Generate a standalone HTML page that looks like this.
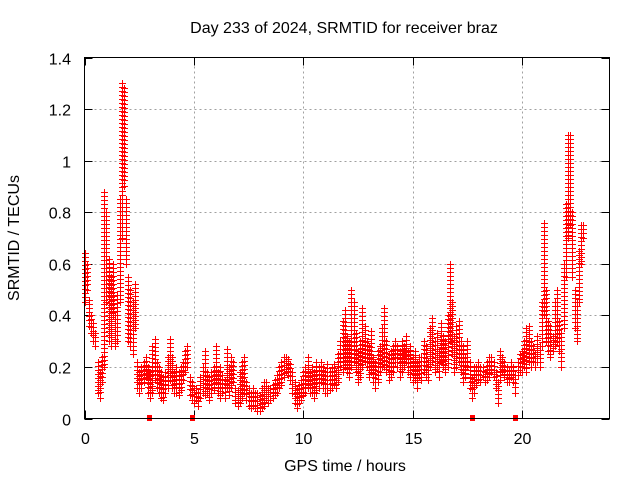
<!DOCTYPE html>
<html><head><meta charset="utf-8">
<style>
html,body{margin:0;padding:0;background:#fff;}
svg{display:block;font-family:"Liberation Sans",sans-serif;}
</style></head>
<body>
<svg id="chart" width="640" height="480" viewBox="0 0 640 480" xmlns="http://www.w3.org/2000/svg">
<rect width="640" height="480" fill="#fff"/>
<text x="344" y="33" font-size="16" text-anchor="middle">Day 233 of 2024, SRMTID for receiver braz</text>
<g id="grid"></g>
<g id="ticks"></g>
<g id="points" fill="#ff0000"></g>
<rect x="84.5" y="57.5" width="525" height="361" fill="none" stroke="#000" stroke-width="1"/>
<text x="345" y="471" font-size="16" text-anchor="middle">GPS time / hours</text>
<text transform="translate(19,238) rotate(-90)" font-size="16" text-anchor="middle">SRMTID / TECUs</text>
</svg>
<script>
const xTicks=[0,5,10,15,20];
const yTicks=[0,0.2,0.4,0.6,0.8,1,1.2,1.4];
const yTickLabels=["0","0.2","0.4","0.6","0.8","1","1.2","1.4"];
const gapMarks=[2.93,4.9,17.7,19.7];
const hours=[0,0.1,0.2,0.3,0.4,0.5,0.6,0.7,0.8,0.9,
1,1.1,1.2,1.3,1.4,1.5,1.6,1.7,1.8,1.9,
2,2.1,2.2,2.3,2.4,2.5,2.6,2.7,2.8,2.9,
3,3.1,3.2,3.3,3.4,3.5,3.6,3.7,3.8,3.9,
4,4.1,4.2,4.3,4.4,4.5,4.6,4.7,4.8,4.9,
5,5.1,5.2,5.3,5.4,5.5,5.6,5.7,5.8,5.9,
6,6.1,6.2,6.3,6.4,6.5,6.6,6.7,6.8,6.9,
7,7.1,7.2,7.3,7.4,7.5,7.6,7.7,7.8,7.9,
8,8.1,8.2,8.3,8.4,8.5,8.6,8.7,8.8,8.9,
9,9.1,9.2,9.3,9.4,9.5,9.6,9.7,9.8,9.9,
10,10.1,10.2,10.3,10.4,10.5,10.6,10.7,10.8,10.9,
11,11.1,11.2,11.3,11.4,11.5,11.6,11.7,11.8,11.9,
12,12.1,12.2,12.3,12.4,12.5,12.6,12.7,12.8,12.9,
13,13.1,13.2,13.3,13.4,13.5,13.6,13.7,13.8,13.9,
14,14.1,14.2,14.3,14.4,14.5,14.6,14.7,14.8,14.9,
15,15.1,15.2,15.3,15.4,15.5,15.6,15.7,15.8,15.9,
16,16.1,16.2,16.3,16.4,16.5,16.6,16.7,16.8,16.9,
17,17.1,17.2,17.3,17.4,17.5,17.6,17.7,17.8,17.9,
18,18.1,18.2,18.3,18.4,18.5,18.6,18.7,18.8,18.9,
19,19.1,19.2,19.3,19.4,19.5,19.6,19.7,19.8,19.9,
20,20.1,20.2,20.3,20.4,20.5,20.6,20.7,20.8,20.9,
21,21.1,21.2,21.3,21.4,21.5,21.6,21.7,21.8,21.9,
22,22.1,22.2,22.3,22.4,22.5,22.6,22.7,22.8];
const highValues=[0.64,0.6,0.46,0.4,0.37,0.33,0.22,0.18,0.24,0.88,
0.8,0.62,0.55,0.6,0.4,0.48,0.85,1.3,1.28,0.85,
0.55,0.5,0.45,0.52,0.22,0.18,0.2,0.22,0.24,0.2,
0.18,0.28,0.31,0.22,0.2,0.18,0.16,0.18,0.24,0.31,
0.24,0.18,0.2,0.18,0.2,0.22,0.26,0.28,0.16,0.14,
0.12,0.12,0.1,0.16,0.2,0.26,0.18,0.16,0.18,0.2,
0.28,0.18,0.2,0.17,0.15,0.27,0.2,0.24,0.22,0.12,
0.11,0.18,0.22,0.24,0.14,0.12,0.1,0.12,0.1,0.1,
0.09,0.12,0.14,0.14,0.12,0.12,0.13,0.15,0.17,0.2,
0.22,0.24,0.24,0.23,0.21,0.18,0.14,0.12,0.13,0.15,
0.18,0.2,0.24,0.18,0.2,0.18,0.22,0.2,0.22,0.2,
0.18,0.21,0.18,0.2,0.21,0.18,0.25,0.3,0.38,0.42,
0.32,0.3,0.5,0.45,0.33,0.26,0.3,0.43,0.36,0.3,
0.28,0.34,0.24,0.22,0.26,0.28,0.35,0.43,0.3,0.25,
0.26,0.28,0.3,0.28,0.26,0.3,0.28,0.32,0.26,0.28,
0.24,0.26,0.22,0.24,0.24,0.3,0.28,0.22,0.35,0.39,
0.3,0.33,0.26,0.37,0.32,0.3,0.4,0.6,0.45,0.32,
0.36,0.38,0.3,0.28,0.24,0.3,0.22,0.16,0.2,0.2,
0.22,0.2,0.2,0.18,0.22,0.24,0.24,0.22,0.18,0.14,
0.26,0.24,0.22,0.2,0.19,0.22,0.2,0.17,0.22,0.25,
0.26,0.3,0.35,0.36,0.3,0.28,0.25,0.32,0.28,0.45,
0.76,0.5,0.38,0.36,0.32,0.45,0.5,0.38,0.33,0.6,
0.83,1.1,1.1,0.8,0.5,0.45,0.65,0.75,0.75];
const lowValues=[0.45,0.5,0.36,0.33,0.3,0.28,0.1,0.08,0.14,0.2,
0.45,0.3,0.28,0.4,0.28,0.3,0.45,0.7,0.9,0.6,
0.3,0.28,0.25,0.35,0.12,0.1,0.12,0.14,0.16,0.1,
0.08,0.1,0.15,0.12,0.1,0.08,0.07,0.1,0.12,0.15,
0.12,0.1,0.1,0.09,0.11,0.15,0.18,0.2,0.09,0.07,
0.06,0.07,0.05,0.08,0.1,0.09,0.1,0.07,0.1,0.11,
0.14,0.1,0.08,0.1,0.08,0.12,0.09,0.12,0.14,0.06,
0.05,0.06,0.08,0.1,0.07,0.05,0.04,0.05,0.04,0.03,
0.03,0.04,0.05,0.07,0.06,0.07,0.08,0.09,0.1,0.12,
0.13,0.16,0.18,0.17,0.15,0.1,0.06,0.04,0.06,0.07,
0.09,0.1,0.12,0.1,0.1,0.08,0.1,0.12,0.14,0.12,
0.1,0.1,0.11,0.12,0.13,0.12,0.14,0.2,0.18,0.2,
0.18,0.16,0.2,0.22,0.18,0.14,0.16,0.2,0.22,0.2,
0.16,0.18,0.14,0.12,0.14,0.18,0.2,0.2,0.18,0.15,
0.16,0.18,0.22,0.2,0.16,0.18,0.2,0.22,0.18,0.16,
0.14,0.15,0.12,0.16,0.15,0.18,0.16,0.15,0.2,0.22,
0.18,0.2,0.16,0.22,0.2,0.18,0.2,0.3,0.25,0.18,
0.2,0.22,0.18,0.14,0.16,0.2,0.12,0.08,0.1,0.13,
0.15,0.14,0.16,0.14,0.15,0.16,0.18,0.16,0.12,0.06,
0.15,0.18,0.16,0.14,0.14,0.16,0.14,0.1,0.17,0.18,
0.18,0.2,0.18,0.22,0.2,0.22,0.2,0.22,0.2,0.28,
0.4,0.3,0.26,0.24,0.26,0.28,0.3,0.26,0.2,0.35,
0.55,0.7,0.75,0.55,0.35,0.3,0.45,0.6,0.7];

const NS="http://www.w3.org/2000/svg";
const X0=84.5,X1=609.5,Y0=418.5,Y1=57.5,XMAX=24,YMAX=1.4;
function xs(v){return X0+(v/XMAX)*(X1-X0);}
function ys(v){return Y0-(v/YMAX)*(Y0-Y1);}
function mk(tag,attrs,parent){const e=document.createElementNS(NS,tag);for(const k in attrs)e.setAttribute(k,attrs[k]);parent.appendChild(e);return e;}
const grid=document.getElementById('grid'),ticks=document.getElementById('ticks'),pts=document.getElementById('points');

yTicks.forEach((v,i)=>{
  const y=Math.round(ys(v))+0.5;
  if(i>0&&i<yTicks.length-1){
    const g=mk('line',{x1:X0,x2:X1,y1:y,y2:y,stroke:'#a0a0a0','stroke-dasharray':'2,3'},grid);
    
    
  }
  const t1=mk('line',{x1:X0,x2:X0+8,y1:y,y2:y,stroke:'#000'},ticks);
  
  
  const t2=mk('line',{x1:X1-8,x2:X1,y1:y,y2:y,stroke:'#000'},ticks);
  
  
  const lb=mk('text',{x:71,y:y+6,'font-size':16,'text-anchor':'end'},ticks);
  lb.textContent=yTickLabels[i];
  
  
});
xTicks.forEach(v=>{
  const x=Math.round(xs(v))+0.5;
  if(v>0){
    const g=mk('line',{x1:x,x2:x,y1:Y0,y2:Y1,stroke:'#a0a0a0','stroke-dasharray':'2,3'},grid);
    
    
  }
  const t1=mk('line',{x1:x,x2:x,y1:Y0,y2:Y0-8,stroke:'#000'},ticks);
  
  
  const t2=mk('line',{x1:x,x2:x,y1:Y1,y2:Y1+8,stroke:'#000'},ticks);
  
  
  const lb=mk('text',{x:x,y:444,'font-size':16,'text-anchor':'middle'},ticks);
  lb.textContent=String(v);
  
  
});
function hbar(x,y,name){
  const r=mk('rect',{x:x-3,y:y,width:7,height:1},pts);
  
  
}
hours.forEach((h,i)=>{
  const x=Math.round(xs(h));
  const yh=Math.round(ys(highValues[i]));
  const yl=Math.round(ys(lowValues[i]));
  const col=mk('rect',{x:x,y:yh-3,width:1,height:(yl-yh)+7},pts);
  
  
  hbar(x,yh,'point-high');
  hbar(x,yl,'point-low');
  for(let y=yh+4;y<yl-2;y+=4){
    hbar(x,y,'range-cross');
  }
});
gapMarks.forEach(h=>{
  const r=mk('rect',{x:Math.round(xs(h))-2,y:Y0-3.5,width:5,height:6},pts);
  
  
});
</script>
</body></html>
